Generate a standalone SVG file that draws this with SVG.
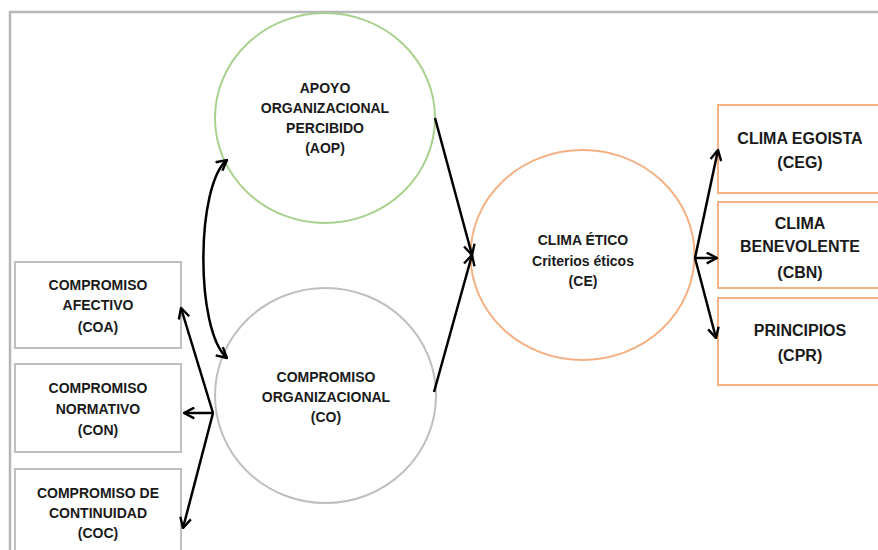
<svg xmlns="http://www.w3.org/2000/svg" width="878" height="550" viewBox="0 0 878 550">
<defs>
<marker id="arr" viewBox="0 0 12 12" refX="11" refY="6" markerWidth="13" markerHeight="13" orient="auto-start-reverse" markerUnits="userSpaceOnUse">
<path d="M1.5,1 L11,6 L1.5,11" fill="none" stroke="#000" stroke-width="2.2" stroke-linejoin="miter"/>
</marker>
<style>
.t{font-family:"Liberation Sans",Arial,sans-serif;font-weight:bold;fill:#1a1a1a;text-anchor:middle}
.s14{font-size:14px}
.s16{font-size:16px}
.gbox{fill:#fff;stroke:#BFBFBF;stroke-width:2}
.obox{fill:#fff;stroke:#F4B183;stroke-width:2}
.c{stroke:#000;stroke-width:2.5;fill:none}
</style>
</defs>
<rect width="878" height="550" fill="#fff"/>
<path d="M10,550 V12 H878" fill="none" stroke="#B7B7B7" stroke-width="2.5"/>

<g id="AOP">
<ellipse cx="325" cy="118" rx="110" ry="105" fill="#fff" stroke="#A9D18E" stroke-width="2"/>
<text class="t s14" x="325" y="93">APOYO</text>
<text class="t s14" x="325" y="113">ORGANIZACIONAL</text>
<text class="t s14" x="325" y="133">PERCIBIDO</text>
<text class="t s14" x="325" y="153">(AOP)</text>
</g>

<g id="CO">
<ellipse cx="325.5" cy="395.5" rx="110.5" ry="107.5" fill="#fff" stroke="#BFBFBF" stroke-width="2"/>
<text class="t s14" x="326" y="382">COMPROMISO</text>
<text class="t s14" x="326" y="402">ORGANIZACIONAL</text>
<text class="t s14" x="326" y="422">(CO)</text>
</g>

<g id="CE">
<ellipse cx="582.5" cy="255" rx="112" ry="105" fill="#fff" stroke="#F4B183" stroke-width="2"/>
<text class="t s14" x="583" y="245">CLIMA ÉTICO</text>
<text class="t s14" x="583" y="266">Criterios éticos</text>
<text class="t s14" x="583" y="286">(CE)</text>
</g>

<g id="COA">
<rect class="gbox" x="15" y="262" width="166" height="86"/>
<text class="t s14" x="98" y="290">COMPROMISO</text>
<text class="t s14" x="98" y="310">AFECTIVO</text>
<text class="t s14" x="98" y="332">(COA)</text>
</g>
<g id="CON">
<rect class="gbox" x="15" y="364" width="166" height="88"/>
<text class="t s14" x="98" y="393">COMPROMISO</text>
<text class="t s14" x="98" y="414">NORMATIVO</text>
<text class="t s14" x="98" y="435">(CON)</text>
</g>
<g id="COC">
<rect class="gbox" x="15" y="469" width="166" height="100"/>
<text class="t s14" x="98" y="498">COMPROMISO DE</text>
<text class="t s14" x="98" y="518">CONTINUIDAD</text>
<text class="t s14" x="98" y="538">(COC)</text>
</g>

<g id="CEG">
<rect class="obox" x="718" y="105" width="170" height="88"/>
<text class="t s16" x="800" y="144">CLIMA EGOISTA</text>
<text class="t s16" x="800" y="168">(CEG)</text>
</g>
<g id="CBN">
<rect class="obox" x="718" y="202" width="170" height="86"/>
<text class="t s16" x="800" y="229">CLIMA</text>
<text class="t s16" x="800" y="252">BENEVOLENTE</text>
<text class="t s16" x="800" y="278">(CBN)</text>
</g>
<g id="CPR">
<rect class="obox" x="718" y="298" width="170" height="87"/>
<text class="t s16" x="800" y="336">PRINCIPIOS</text>
<text class="t s16" x="800" y="361">(CPR)</text>
</g>

<g id="connectors">
<path class="c" d="M227,160 C196,185 195,330 227,358" marker-start="url(#arr)" marker-end="url(#arr)"/>
<path class="c" d="M435,118 L472,255" marker-end="url(#arr)"/>
<path class="c" d="M434,392 L472,255" marker-end="url(#arr)"/>
<path class="c" d="M213,413 L181,308" marker-end="url(#arr)"/>
<path class="c" d="M213,413 L184,413" marker-end="url(#arr)"/>
<path class="c" d="M213,413 L183,528" marker-end="url(#arr)"/>
<path class="c" d="M695,258 L718,150" marker-end="url(#arr)"/>
<path class="c" d="M695,258 L717,258" marker-end="url(#arr)"/>
<path class="c" d="M695,258 L716,338" marker-end="url(#arr)"/>
</g>
</svg>
